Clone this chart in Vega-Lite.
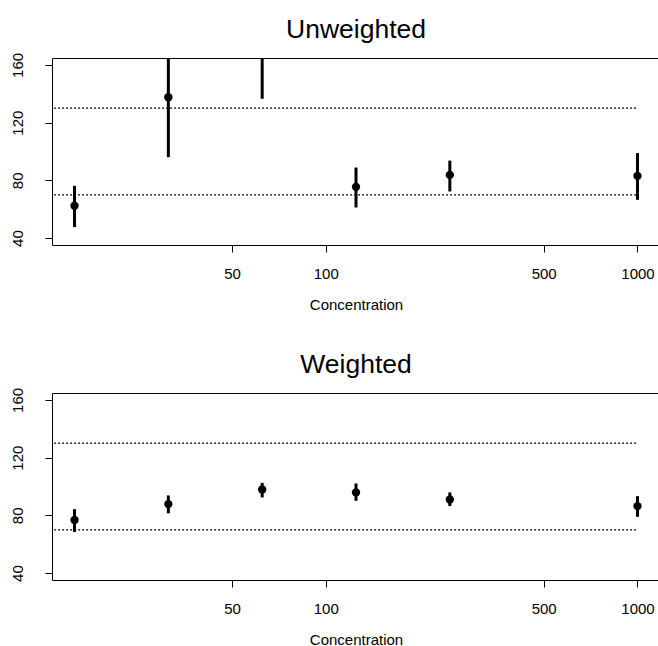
{
  "$schema": "https://vega.github.io/schema/vega-lite/v6.json",
  "background": "white",
  "padding": {"left": 9, "top": 16, "right": 0, "bottom": 0},
  "config": {
    "font": "Liberation Sans",
    "view": {"stroke": "black", "strokeWidth": 1},
    "axis": {
      "domain": false, "grid": false, "tickColor": "black", "tickSize": 7, "tickWidth": 1,
      "labelColor": "black", "labelFontSize": 15, "labelFont": "Liberation Sans",
      "titleColor": "black", "titleFontSize": 15, "titleFontWeight": "normal", "titleFont": "Liberation Sans"
    },
    "title": {"fontSize": 26.5, "fontWeight": "normal", "color": "black", "font": "Liberation Sans", "frame": "group", "anchor": "middle", "baseline": "alphabetic", "offset": 9}
  },
  "datasets": {
    "est": [
      {"panel": "Unweighted", "conc": 15.625, "mean": 62.4, "lower": 47.6, "upper": 76.2},
      {"panel": "Unweighted", "conc": 31.25, "mean": 137.6, "lower": 96.1, "upper": 179.0},
      {"panel": "Unweighted", "conc": 62.5, "mean": 180.0, "lower": 136.5, "upper": 223.5},
      {"panel": "Unweighted", "conc": 125, "mean": 75.5, "lower": 61.2, "upper": 88.9},
      {"panel": "Unweighted", "conc": 250, "mean": 83.8, "lower": 72.3, "upper": 93.7},
      {"panel": "Unweighted", "conc": 1000, "mean": 83.1, "lower": 66.5, "upper": 98.9},
      {"panel": "Weighted", "conc": 15.625, "mean": 76.8, "lower": 68.5, "upper": 84.3},
      {"panel": "Weighted", "conc": 31.25, "mean": 87.8, "lower": 81.4, "upper": 93.8},
      {"panel": "Weighted", "conc": 62.5, "mean": 97.9, "lower": 92.4, "upper": 102.5},
      {"panel": "Weighted", "conc": 125, "mean": 95.9, "lower": 90.1, "upper": 102.1},
      {"panel": "Weighted", "conc": 250, "mean": 91.0, "lower": 86.4, "upper": 95.9},
      {"panel": "Weighted", "conc": 1000, "mean": 86.4, "lower": 79.0, "upper": 93.3}
    ],
    "refs": [
      {"from": 10, "to": 1000, "level": 70},
      {"from": 10, "to": 1000, "level": 130}
    ]
  },
  "vconcat": [
    {
      "title": {"text": "Unweighted"},
      "width": 608,
      "height": 187,
      "layer": [
        {
          "data": {"name": "refs"},
          "mark": {"type": "rule", "clip": true, "strokeDash": [2, 2], "strokeWidth": 1.2, "color": "black"},
          "encoding": {
            "x": {"field": "from", "type": "quantitative", "scale": {"type": "log", "domain": [13.23, 1181], "nice": false},
                  "axis": {"values": [50, 100, 500, 1000], "format": "d", "labelPadding": 14, "titlePadding": 16, "title": "Concentration"}},
            "x2": {"field": "to"},
            "y": {"field": "level", "type": "quantitative", "scale": {"domain": [35.2, 164.8], "nice": false, "zero": false},
                  "axis": {"values": [40, 60, 80, 100, 120, 140, 160], "labelExpr": "datum.value % 40 == 0 ? datum.label : ''", "labelAngle": -90, "labelAlign": "center", "labelBaseline": "alphabetic", "labelPadding": 23, "title": null}}
          }
        },
        {
          "data": {"name": "est"},
          "transform": [{"filter": "datum.panel == 'Unweighted'"}],
          "mark": {"type": "rule", "clip": true, "strokeWidth": 3, "color": "black"},
          "encoding": {
            "x": {"field": "conc", "type": "quantitative"},
            "y": {"field": "lower", "type": "quantitative"},
            "y2": {"field": "upper"}
          }
        },
        {
          "data": {"name": "est"},
          "transform": [{"filter": "datum.panel == 'Unweighted'"}],
          "mark": {"type": "point", "clip": true, "filled": true, "opacity": 1, "size": 70, "color": "black"},
          "encoding": {
            "x": {"field": "conc", "type": "quantitative"},
            "y": {"field": "mean", "type": "quantitative"}
          }
        }
      ]
    },
    {
      "title": {"text": "Weighted"},
      "width": 608,
      "height": 187,
      "layer": [
        {
          "data": {"name": "refs"},
          "mark": {"type": "rule", "clip": true, "strokeDash": [2, 2], "strokeWidth": 1.2, "color": "black"},
          "encoding": {
            "x": {"field": "from", "type": "quantitative", "scale": {"type": "log", "domain": [13.23, 1181], "nice": false},
                  "axis": {"values": [50, 100, 500, 1000], "format": "d", "labelPadding": 14, "titlePadding": 16, "title": "Concentration"}},
            "x2": {"field": "to"},
            "y": {"field": "level", "type": "quantitative", "scale": {"domain": [35.2, 164.8], "nice": false, "zero": false},
                  "axis": {"values": [40, 60, 80, 100, 120, 140, 160], "labelExpr": "datum.value % 40 == 0 ? datum.label : ''", "labelAngle": -90, "labelAlign": "center", "labelBaseline": "alphabetic", "labelPadding": 23, "title": null}}
          }
        },
        {
          "data": {"name": "est"},
          "transform": [{"filter": "datum.panel == 'Weighted'"}],
          "mark": {"type": "rule", "clip": true, "strokeWidth": 3, "color": "black"},
          "encoding": {
            "x": {"field": "conc", "type": "quantitative"},
            "y": {"field": "lower", "type": "quantitative"},
            "y2": {"field": "upper"}
          }
        },
        {
          "data": {"name": "est"},
          "transform": [{"filter": "datum.panel == 'Weighted'"}],
          "mark": {"type": "point", "clip": true, "filled": true, "opacity": 1, "size": 70, "color": "black"},
          "encoding": {
            "x": {"field": "conc", "type": "quantitative"},
            "y": {"field": "mean", "type": "quantitative"}
          }
        }
      ]
    }
  ],
  "spacing": 148,
  "bounds": "flush"
}
